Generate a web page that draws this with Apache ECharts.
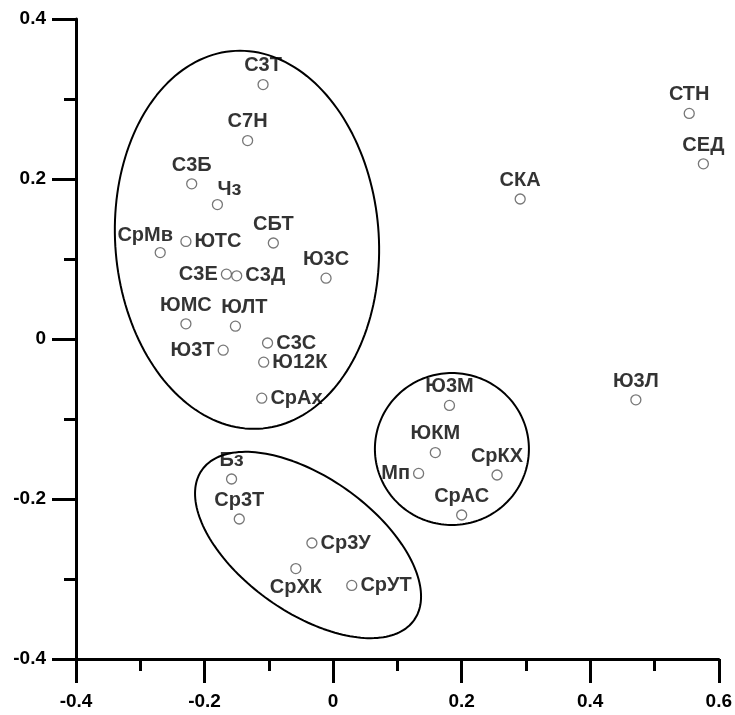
<!DOCTYPE html>
<html>
<head>
<meta charset="utf-8">
<script src="https://cdn.jsdelivr.net/npm/echarts@6/dist/echarts.min.js"></script>
<style>
	html, body { margin: 0; padding: 0; background: #fff; }
	#chart { width: 735px; height: 715px; }
</style>
</head>
<body>
<div id="chart"></div>
<script>
// point names and coordinates
var names = ['С3Т', 'С7Н', 'С3Б', 'Чз', 'СБТ', 'ЮТС', 'СрМв', 'С3Е', 'С3Д', 'Ю3С',
	'ЮМС', 'ЮЛТ', 'Ю3Т', 'С3С', 'Ю12К', 'СрАх',
	'Бз', 'Ср3Т', 'Ср3У', 'СрХК', 'СрУТ',
	'Ю3М', 'ЮКМ', 'Мп', 'СрКХ', 'СрАС',
	'СТН', 'СЕД', 'СКА', 'Ю3Л'];
var xs = [-0.109, -0.133, -0.220, -0.180, -0.093, -0.229, -0.269, -0.166, -0.150, -0.011,
	-0.229, -0.152, -0.171, -0.102, -0.108, -0.111,
	-0.158, -0.146, -0.033, -0.058, 0.029,
	0.181, 0.159, 0.133, 0.255, 0.200,
	0.554, 0.576, 0.291, 0.471];
var ys = [0.318, 0.248, 0.194, 0.168, 0.120, 0.122, 0.108, 0.081, 0.079, 0.076,
	0.019, 0.016, -0.014, -0.005, -0.029, -0.074,
	-0.175, -0.225, -0.255, -0.287, -0.308,
	-0.083, -0.142, -0.168, -0.170, -0.220,
	0.282, 0.219, 0.175, -0.076];
// where each name sits relative to its point
var labelPlace = ['top', 'top', 'top', 'top', 'top', 'right', 'top', 'left', 'right', 'top',
	'top', 'top', 'left', 'right', 'right', 'right',
	'top', 'top', 'right', 'bottom', 'right',
	'top', 'top', 'left', 'top', 'top',
	'top', 'top', 'top', 'top'];
var xTicks = { min: -0.4, max: 0.6, step: 0.2 };
var yTicks = { min: -0.4, max: 0.4, step: 0.2 };

// group outlines: centre and two semi-axis vectors (data units)
var groups = [
	{ c: [-0.134, 0.124], u: [0.2053, 0], v: [-0.0109, 0.2363] },
	{ c: [-0.039, -0.2575], u: [0.165, -0.0939], v: [0.0607, 0.0689] },
	{ c: [0.1848, -0.1375], u: [0.1198, 0], v: [0, 0.095] }
];

var myChart = echarts.init(document.getElementById('chart'));

var offsets = { 'Чз': [12, 4], 'СрМв': [-15, 2], 'ЮЛТ': [9, 0] };

var points = [];
for (var i = 0; i < names.length; i++) {
	var item = {
		name : names[i],
		value : [xs[i], ys[i]],
		label : {
			position : labelPlace[i]
		}
	};
	if (offsets[names[i]]) {
		item.label.offset = offsets[names[i]];
	}
	points.push(item);
}

var series = [];
for (var g = 0; g < groups.length; g++) {
	var e = groups[g];
	var ring = [];
	for (var k = 0; k <= 180; k++) {
		var t = Math.PI * 2 * k / 180;
		ring.push([e.c[0] + e.u[0] * Math.cos(t) + e.v[0] * Math.sin(t),
			e.c[1] + e.u[1] * Math.cos(t) + e.v[1] * Math.sin(t)]);
	}
	series.push({
		type : 'line',
		data : ring,
		showSymbol : false,
		symbol : 'none',
		silent : true,
		clip : false,
		z : 1,
		lineStyle : {
			color : '#000',
			width : 2
		}
	});
}

series.push({
	type : 'scatter',
	data : points,
	symbol : 'circle',
	symbolSize : 10,
	z : 3,
	itemStyle : {
		color : '#fff',
		borderColor : '#555',
		borderWidth : 1.3
	},
	label : {
		show : true,
		formatter : '{b}',
		distance : 3,
		color : '#000',
		fontSize : 20,
		fontWeight : 'bold',
		fontFamily : 'Liberation Sans, Arial, sans-serif'
	}
});

function axisStyle(tk, margin) {
	return {
		type : 'value',
		min : tk.min,
		max : tk.max,
		interval : tk.step,
		axisLine : {
			show : true,
			onZero : false,
			lineStyle : { color : '#000', width : 3 }
		},
		axisTick : {
			show : true,
			inside : false,
			length : 24,
			lineStyle : { color : '#000', width : 3 }
		},
		minorTick : {
			show : true,
			splitNumber : 2,
			length : 12,
			lineStyle : { color : '#000', width : 3 }
		},
		splitLine : { show : false },
		axisLabel : {
			margin : margin,
			color : '#000',
			fontSize : 19,
			fontWeight : 'bold',
			fontFamily : 'Liberation Sans, Arial, sans-serif'
		}
	};
}

var option = {
	animation : false,
	grid : {
		left : 76,
		right : 16,
		top : 19,
		bottom : 56
	},
	xAxis : axisStyle(xTicks, 33),
	yAxis : axisStyle(yTicks, 30),
	series : series
};
myChart.setOption(option);
</script>
</body>
</html>
